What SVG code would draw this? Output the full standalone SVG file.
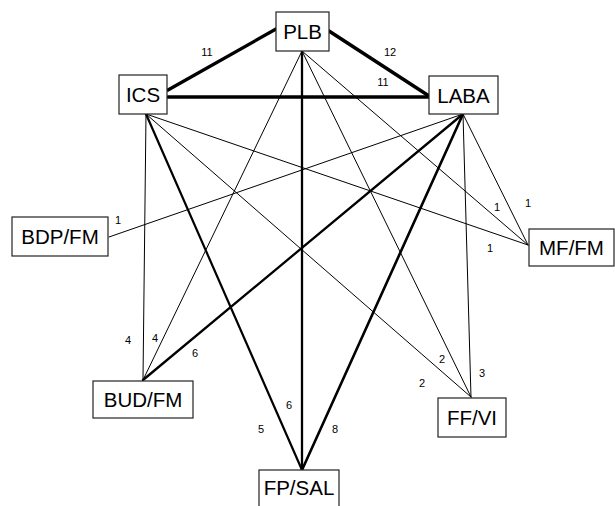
<svg xmlns="http://www.w3.org/2000/svg" width="615" height="506" viewBox="0 0 615 506">
<style>
.box{fill:#fff;stroke:#222;stroke-width:1.2}
.nl{font-family:"Liberation Sans",Arial,sans-serif;font-size:20.5px;fill:#000;text-anchor:middle}
.el{font-family:"Liberation Sans",Arial,sans-serif;font-size:11px;fill:#000;text-anchor:middle}
.e{stroke:#000;fill:none;stroke-linecap:round}
.t1{stroke-width:1}
.t5{stroke-width:2.2}
.t6{stroke-width:2.3}
.t8{stroke-width:2.6}
.t11{stroke-width:3.3}
.t12{stroke-width:3.5}
</style>
<rect width="615" height="506" fill="#fff"/>
<g id="connectors">
<line class="e t11" x1="168" y1="90" x2="276" y2="29"/>
<line class="e t12" x1="329" y1="31" x2="429" y2="96"/>
<line class="e t11" x1="168" y1="97" x2="429" y2="97"/>
<line class="e t6" x1="302" y1="51" x2="302" y2="470"/>
<line class="e t5" x1="146" y1="114" x2="302" y2="470"/>
<line class="e t8" x1="463" y1="114" x2="302" y2="470"/>
<line class="e t6" x1="463" y1="114" x2="143" y2="380"/>
<line class="e t1" x1="146" y1="114" x2="143" y2="380"/>
<line class="e t1" x1="302" y1="51" x2="143" y2="380"/>
<line class="e t1" x1="146" y1="114" x2="528" y2="245"/>
<line class="e t1" x1="302" y1="51" x2="528" y2="245"/>
<line class="e t1" x1="463" y1="114" x2="528" y2="245"/>
<line class="e t1" x1="463" y1="114" x2="471" y2="397"/>
<line class="e t1" x1="302" y1="51" x2="471" y2="397"/>
<line class="e t1" x1="146" y1="114" x2="471" y2="397"/>
<line class="e t1" x1="463" y1="114" x2="109" y2="237"/>
<text class="el" x="207" y="56">11</text>
<text class="el" x="390" y="56">12</text>
<text class="el" x="383" y="86">11</text>
<text class="el" x="118" y="224">1</text>
<text class="el" x="497" y="211">1</text>
<text class="el" x="528" y="207">1</text>
<text class="el" x="490" y="252">1</text>
<text class="el" x="128" y="344">4</text>
<text class="el" x="155" y="342">4</text>
<text class="el" x="195" y="357">6</text>
<text class="el" x="289" y="409">6</text>
<text class="el" x="261" y="433">5</text>
<text class="el" x="335" y="433">8</text>
<text class="el" x="442" y="363">2</text>
<text class="el" x="482" y="377">3</text>
<text class="el" x="422" y="387">2</text>
</g>
<g id="PLB"><rect class="box" x="276" y="12" width="53" height="39"/><text class="nl" x="302.5" y="39">PLB</text></g>
<g id="ICS"><rect class="box" x="119" y="75" width="48" height="39"/><text class="nl" x="143" y="102">ICS</text></g>
<g id="LABA"><rect class="box" x="429" y="76" width="69" height="38"/><text class="nl" x="463.5" y="102.5">LABA</text></g>
<g id="BDP_FM"><rect class="box" x="12" y="217" width="96" height="39"/><text class="nl" x="60" y="244">BDP/FM</text></g>
<g id="MF_FM"><rect class="box" x="529" y="229" width="85" height="37"/><text class="nl" x="571.5" y="255">MF/FM</text></g>
<g id="BUD_FM"><rect class="box" x="93" y="381" width="100" height="37"/><text class="nl" x="143" y="407">BUD/FM</text></g>
<g id="FF_VI"><rect class="box" x="438" y="398" width="68" height="39"/><text class="nl" x="472" y="425">FF/VI</text></g>
<g id="FP_SAL"><rect class="box" x="259" y="470" width="80" height="40"/><text class="nl" x="299" y="495">FP/SAL</text></g>
</svg>
